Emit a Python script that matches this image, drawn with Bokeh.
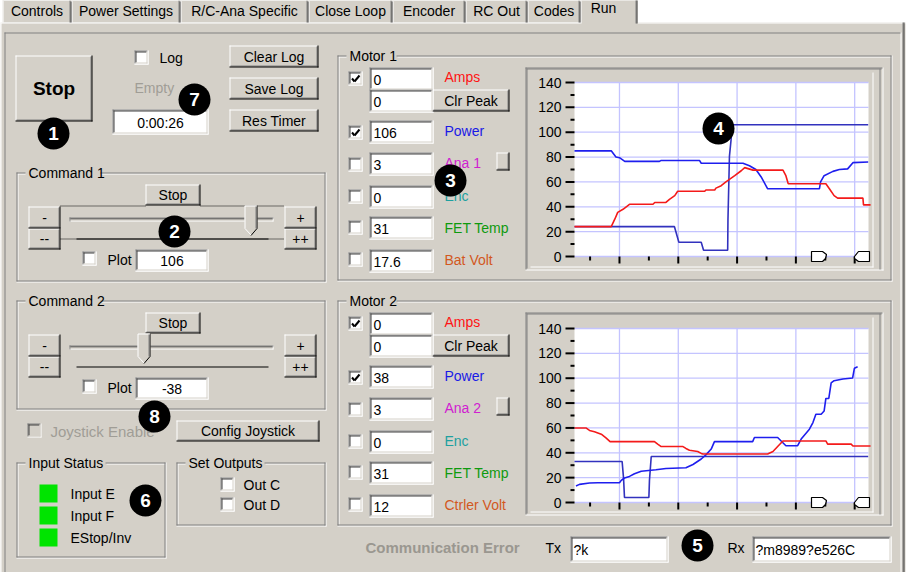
import numpy as np
from bokeh.plotting import figure
from bokeh.models import Range1d, ColumnDataSource
from bokeh.core.properties import value
from bokeh.embed import file_html
from bokeh.resources import INLINE

# ---------------- data ----------------
tabs = ["Controls", "Power Settings", "R/C-Ana Specific", "Close Loop",
        "Encoder", "RC Out", "Codes", "Run"]

y_ticks = [0, 20, 40, 60, 80, 100, 120, 140]
y_tick_labels = ["0", "20", "40", "60", "80", "100", "120", "140"]
y_minor = [10, 30, 50, 70, 90, 110, 130]
x_major = [10, 20, 30, 40, 50]
x_minor = [5, 15, 25, 35, 45]
t_start, t_end = 2.35, 52.35

m1_labels = ["Amps", "Power", "Ana 1", "Enc", "FET Temp", "Bat Volt"]
m1_values = ["0", "106", "3", "0", "31", "17.6"]
m1_peak = "0"
m1_checked = [True, True, False, False, False, False]
m2_labels = ["Amps", "Power", "Ana 2", "Enc", "FET Temp", "Ctrler Volt"]
m2_values = ["0", "38", "3", "0", "31", "12"]
m2_peak = "0"
m2_checked = [True, True, False, False, False, False]

cmd1_value = "106"
cmd2_value = "-38"
timer_text = "0:00:26"
tx_text = "?k"
rx_text = "?m8989?e526C"
inputs = ["Input E", "Input F", "EStop/Inv"]
outputs = ["Out C", "Out D"]

# Motor 1 chart series
m1_amps_t = [2.35, 8.6, 9.2, 9.7, 10.6, 11.7, 15.7, 16.0, 17.9, 18.5, 19.4, 19.9, 24.5, 24.7,
             26.2, 26.4, 27.3, 28.1, 29.6, 30.7, 31.3, 32.7, 37.8, 38.3, 38.7, 45.1, 45.7,
             46.5, 47.1, 51.4, 51.5, 52.7]
m1_amps = [24, 24, 30, 35.5, 38, 42, 42, 43.5, 43.5, 46, 49, 52.5, 52.5, 53.5,
           53.5, 55, 57, 60, 65, 69, 71.5, 69.5, 69.5, 65, 58.5, 58.5, 54.5,
           49, 47, 47, 41.5, 41.5]
m1_power_t = [2.35, 8.6, 9.4, 10.0, 10.9, 16.8, 17.1, 23.6, 23.9, 31.0, 32.1, 33.2, 34.1,
              35.2, 44.0, 44.2, 44.8, 46.3, 47.4, 48.8, 49.7, 52.3]
m1_power = [85, 85, 80, 79.5, 76.5, 76.5, 77.3, 77.3, 75, 75, 73, 70, 64,
            54.5, 54.5, 60, 65, 68.5, 70, 70.5, 75.5, 76]
m1_cmd_t = [2.35, 19.35, 20.1, 23.9, 24.3, 28.4, 28.45, 28.7, 29.0, 29.15, 52.3]
m1_cmd = [24, 24, 11.5, 11.5, 5, 5, 30, 80.5, 95, 106, 106]

# Motor 2 chart series
m2_amps_t = [2.35, 4.3, 4.9, 5.75, 6.9, 7.7, 8.4, 15.95, 16.5, 17.1, 20.8, 21.3, 21.9, 23.3,
             23.9, 24.2, 35.2, 36.1, 36.9, 37.8, 45.1, 45.4, 49.4, 49.7, 52.7]
m2_amps = [60, 60, 58, 57, 55, 52, 49, 49, 47, 45, 45, 43.5, 42, 41,
           39.5, 39, 39, 41, 45, 49.5, 49.5, 47, 47, 45.5, 45.5]
m2_power_t = [2.6, 3.2, 4.9, 6.3, 10.0, 10.3, 10.85, 11.7, 12.55, 13.7, 16.2, 17.9, 21.3,
              22.5, 23.9, 24.7, 25.6, 26.15, 32.65, 32.95, 36.9, 38.3, 40.3, 40.9, 42.3,
              42.9, 43.4, 44.3, 44.8, 45.1, 45.6, 46.0, 46.5, 48.0, 49.65, 49.95, 50.5]
m2_power = [13.3, 14.6, 15.7, 15.9, 15.9, 17.8, 19.7, 21, 23.1, 25.2, 26.3, 27.4, 27.9,
            30.6, 35, 38.3, 43, 49, 49, 52.3, 52.3, 45.7, 45.7, 51, 59,
            64.3, 71, 71, 73.6, 83.7, 83.7, 96.2, 98, 99.4, 100.2, 108, 109.2]
m2_cmd_t = [2.35, 10.45, 10.7, 10.85, 15.0, 15.1, 15.4, 52.3]
m2_cmd = [33, 33, 19, 4, 4, 18, 37, 37]

# ---------------- style ----------------
FONT = "Liberation Sans"
GREY = "#D4D0C8"
DARK = "#808080"
SHADOW = "#404040"
WHITE = "#FFFFFF"
BLACK = "#000000"
DIS = "#A09D96"
GRID = "#C4C4FF"
RED = "#F41A1A"
BLUE = "#1E1EEE"
NAVY = "#3232BE"
GREEN = "#00E400"
LABEL_COLORS = ["#FF1414", "#1A1AE6", "#D020D0", "#1EA0A0", "#0E9A0E", "#D2581E"]

p = figure(width=907, height=572, x_range=Range1d(8, 915), y_range=Range1d(580, 8),
           output_backend="svg", toolbar_location=None, min_border=0,
           x_axis_location=None, y_axis_location=None)
p.grid.visible = False
p.outline_line_color = None
p.background_fill_color = WHITE
p.border_fill_color = WHITE

QU = dict(l=[], r=[], t=[], b=[], c=[])
SEG = {}
TXT = {}
PATCH = dict(xs=[], ys=[], c=[])


def rect(x0, y0, x1, y1, c):
    QU["l"].append(x0); QU["r"].append(x1); QU["t"].append(y0); QU["b"].append(y1); QU["c"].append(c)


def seg(x0, y0, x1, y1, c, w=1, dash="solid", layer=0):
    d = SEG.setdefault((layer, c, w, dash), dict(x0=[], y0=[], x1=[], y1=[]))
    d["x0"].append(x0); d["y0"].append(y0); d["x1"].append(x1); d["y1"].append(y1)


def hl(x0, x1, y, c, **kw):
    seg(x0, y + 0.5, x1, y + 0.5, c, **kw)


def vl(x, y0, y1, c, **kw):
    seg(x + 0.5, y0, x + 0.5, y1, c, **kw)


def text(x, y, s, size=14, bold=False, color=BLACK, align="left"):
    d = TXT.setdefault((size, bold, align), dict(x=[], y=[], text=[], color=[]))
    d["x"].append(x); d["y"].append(y); d["text"].append(s); d["color"].append(color)


def raised(x0, y0, x1, y1, label=None, size=14, bold=False):
    rect(x0, y0, x1, y1, GREY)
    hl(x0, x1 - 1, y0, WHITE); vl(x0, y0, y1 - 1, WHITE)
    hl(x0, x1, y1 - 1, BLACK); vl(x1 - 1, y0, y1, BLACK)
    hl(x0 + 1, x1 - 1, y1 - 2, DARK); vl(x1 - 2, y0 + 1, y1 - 1, DARK)
    if label is not None:
        text((x0 + x1) / 2, (y0 + y1) / 2, label, size=size, bold=bold, align="center")


def sunken(x0, y0, x1, y1, fill=WHITE):
    rect(x0, y0, x1, y1, fill)
    hl(x0, x1 - 1, y0, DARK); vl(x0, y0, y1 - 1, DARK)
    hl(x0 + 1, x1 - 2, y0 + 1, SHADOW); vl(x0 + 1, y0 + 1, y1 - 2, SHADOW)
    hl(x0, x1, y1 - 1, WHITE); vl(x1 - 1, y0, y1, WHITE)
    hl(x0 + 1, x1 - 1, y1 - 2, GREY); vl(x1 - 2, y0 + 1, y1 - 1, GREY)


def checkbox(x, y, checked=False, disabled=False, s=14):
    sunken(x, y, x + s, y + s, GREY if disabled else WHITE)
    if checked:
        seg(x + 3.5, y + 7, x + 6, y + 10, BLACK, w=2, layer=1)
        seg(x + 6, y + 10, x + 11, y + 4, BLACK, w=2, layer=1)


def group(x0, y0, x1, y1, title, tw):
    g0, g1 = x0 + 9, x0 + 13 + tw
    for a, b in ((x0, g0), (g1, x1 - 1)):
        hl(a, b, y0, DARK); hl(a + 1, b, y0 + 1, WHITE)
    vl(x0, y0, y1 - 1, DARK); vl(x0 + 1, y0 + 1, y1 - 2, WHITE)
    hl(x0, x1 - 1, y1 - 2, DARK); hl(x0, x1, y1 - 1, WHITE)
    vl(x1 - 2, y0, y1 - 1, DARK); vl(x1 - 1, y0, y1, WHITE)
    text(x0 + 12, y0 + 0.5, title)


# ---------------- tabs and panel ----------------
tab_x = [10, 79, 188, 316, 400, 473, 535, 588, 645]
rect(8, 30, 913, 588, GREY)
for i, name in enumerate(tabs[:-1]):
    a, b = tab_x[i], tab_x[i + 1]
    rect(a, 7, b, 30, GREY)
    hl(a + 1, b - 2, 7, WHITE); vl(a, 8, 30, WHITE)
    vl(b - 2, 8, 30, DARK); vl(b - 1, 9, 30, SHADOW)
    text((a + b) / 2, 18.5, name, align="center")
hl(8, 588, 30, WHITE); hl(645, 913, 30, WHITE)
vl(8, 30, 588, WHITE)
a, b = tab_x[-2], tab_x[-1]
rect(a, 3, b, 31, GREY)
hl(a + 1, b - 2, 3, WHITE); vl(a, 4, 31, WHITE)
vl(b - 2, 4, 31, DARK); vl(b - 1, 5, 31, SHADOW)
text(611, 15.5, tabs[-1], align="center")
vl(910, 30, 588, DARK); vl(911, 30, 588, SHADOW)
# inner frame
hl(12, 908, 40, DARK); vl(12, 40, 583, DARK)
hl(12, 909, 582, WHITE); vl(908, 40, 583, WHITE)

# ---------------- top-left controls ----------------
raised(23, 63, 100, 129, "Stop", size=19, bold=True)
checkbox(142, 58)
text(167, 65, "Log")
text(142, 95, "Empty", color=DIS)
sunken(120, 117, 216, 142)
text(168, 130, timer_text, align="center")
raised(237, 53, 326, 75, "Clear Log")
raised(237, 85, 326, 107, "Save Log")
raised(237, 117, 326, 139, "Res Timer")


def command(dy, title, val, thumb_x, focus):
    group(24, 180 + dy, 334, 290 + dy, title, 71)
    raised(153, 192 + dy, 208, 213 + dy, "Stop")
    if focus:
        hl(68, 153, 213 + dy, BLACK, dash="1 1"); hl(208, 292, 213 + dy, BLACK, dash="1 1")
        hl(68, 292, 246 + dy, BLACK, dash="1 1")
    raised(36, 214 + dy, 68, 236 + dy, "-")
    raised(36, 236 + dy, 68, 257 + dy, "--")
    raised(292, 214 + dy, 324, 236 + dy, "+")
    raised(292, 236 + dy, 324, 257 + dy, "++")
    # channel
    hl(77, 281, 225 + dy, DARK); hl(78, 280, 226 + dy, SHADOW)
    hl(78, 280, 227 + dy, GREY); hl(77, 281, 228 + dy, WHITE)
    vl(77, 225 + dy, 229 + dy, DARK); vl(280, 225 + dy, 229 + dy, WHITE)
    hl(84, 276, 246 + dy, BLACK, layer=1) if focus else hl(84, 276, 246 + dy, BLACK)
    # thumb
    x0, x1 = thumb_x, thumb_x + 13
    xm = (x0 + x1) / 2
    PATCH["xs"].append([x0, x1, x1, xm, x0]); PATCH["ys"].append([213 + dy, 213 + dy, 236 + dy, 243 + dy, 236 + dy])
    PATCH["c"].append(GREY)
    seg(x0 + 0.5, 213.5 + dy, x1 - 0.5, 213.5 + dy, WHITE, layer=1)
    seg(x0 + 0.5, 213.5 + dy, x0 + 0.5, 236 + dy, WHITE, layer=1)
    seg(x0 + 0.5, 236 + dy, xm, 242.5 + dy, WHITE, layer=1)
    seg(x1 - 0.5, 213 + dy, x1 - 0.5, 236 + dy, BLACK, layer=1)
    seg(x1 - 0.5, 236 + dy, xm, 243 + dy, BLACK, layer=1)
    seg(x1 - 1.5, 214 + dy, x1 - 1.5, 236 + dy, DARK, layer=1)
    checkbox(90, 259 + dy)
    text(115, 267.5 + dy, "Plot")
    sunken(143, 257 + dy, 216, 279 + dy)
    text(179.5, 268.5 + dy, val, align="center")


command(0, "Command 1", cmd1_value, 252, True)
command(128, "Command 2", cmd2_value, 145, False)

checkbox(35, 431, disabled=True)
text(58, 438.5, "Joystick Enable", size=15, color=DIS)
raised(184, 428, 327, 449, "Config Joystick")

group(24, 470, 174, 566, "Input Status", 76)
for i, s in enumerate(inputs):
    rect(47, 492 + 22 * i, 65, 510 + 22 * i, GREEN)
    text(78, 501 + 22 * i, s)
group(184, 470, 334, 534, "Set Outputs", 75)
for i, s in enumerate(outputs):
    checkbox(228, 485 + 20 * i)
    text(251, 492.5 + 20 * i, s)

# ---------------- motor groups ----------------
row_tb = [75, 128, 160, 193, 224, 257]
row_cb = [79, 133, 165, 197, 228, 260]
row_lb = [84, 138, 170, 203, 235, 267]


def motor(dy, title, labels, values, peak, checked):
    group(345, 63 + dy, 900, 289 + dy, title, 46)
    for i in range(6):
        checkbox(356, row_cb[i] + dy, checked=checked[i])
        sunken(377, row_tb[i] + dy, 441, row_tb[i] + 23 + dy)
        text(381, row_tb[i] + 12 + dy, values[i])
        text(452, row_lb[i] + dy, labels[i], color=LABEL_COLORS[i])
    sunken(377, 97 + dy, 441, 120 + dy)
    text(381, 109 + dy, peak)
    raised(440, 97 + dy, 517, 119 + dy, "Clr Peak")
    raised(504, 160 + dy, 517, 178 + dy)
    # chart frame
    rect(533, 75 + dy, 891, 278 + dy, GREY)
    hl(533, 890, 75 + dy, DARK); vl(533, 75 + dy, 277 + dy, DARK)
    hl(534, 889, 76 + dy, DARK); vl(534, 76 + dy, 276 + dy, DARK)
    hl(533, 891, 277 + dy, WHITE); vl(890, 75 + dy, 278 + dy, WHITE)
    vl(887, 76 + dy, 277 + dy, DARK)
    vl(880, 80 + dy, 275 + dy, WHITE); hl(538, 881, 274 + dy, WHITE)


motor(0, "Motor 1", m1_labels, m1_values, m1_peak, m1_checked)
motor(245, "Motor 2", m2_labels, m2_values, m2_peak, m2_checked)

# ---------------- bottom line ----------------
text(373, 555, "Communication Error", size=15, bold=True, color="#9A9790")
text(553, 555, "Tx")
sunken(578, 544, 676, 570)
text(581, 557.5, tx_text)
text(735, 555, "Rx")
sunken(760, 544, 899, 570)
text(763, 557.5, rx_text)

# ---------------- render GUI ----------------
p.quad(left="l", right="r", top="t", bottom="b", fill_color="c", line_color=None,
       source=ColumnDataSource(QU))


def draw_segs(layer):
    for (ly, c, w, dash), d in SEG.items():
        if ly == layer:
            p.segment(x0="x0", y0="y0", x1="x1", y1="y1", line_color=c, line_width=w,
                      line_dash=dash, source=ColumnDataSource(d))


draw_segs(0)
p.patches(xs="xs", ys="ys", fill_color="c", line_color=None, source=ColumnDataSource(PATCH))
draw_segs(1)
for (size, bold, align), d in TXT.items():
    p.text(x="x", y="y", text="text", text_color="color", source=ColumnDataSource(d),
           text_font=value(FONT), text_font_size=f"{size}px",
           text_font_style="bold" if bold else "normal",
           text_align=align, text_baseline="middle")


# ---------------- charts ----------------
def chart(dy, series):
    sub = p.subplot(x_source=Range1d(t_start, t_end), y_source=Range1d(0, 140),
                    x_target=Range1d(582, 876), y_target=Range1d(264 + dy, 90 + dy))
    sub.quad(left=[t_start], right=[t_end], bottom=[0], top=[140], fill_color=WHITE, line_color=None)
    sub.segment(x0=x_major, y0=[0] * len(x_major), x1=x_major, y1=[140] * len(x_major),
                line_color=GRID, line_width=1.3)
    sub.segment(x0=[t_start] * len(y_ticks), y0=y_ticks, x1=[t_end] * len(y_ticks), y1=y_ticks,
                line_color=GRID, line_width=1.3)
    for t, v, c in series:
        sub.line(t, v, line_color=c, line_width=1.6)
    sub.ray(x=[t_start] * len(y_ticks), y=y_ticks, length=9, angle=np.pi, length_units="screen",
            line_color=BLACK, line_width=2)
    sub.ray(x=[t_start] * len(y_minor), y=y_minor, length=4, angle=np.pi, length_units="screen",
            line_color=BLACK, line_width=2)
    k = 140 / 174
    sub.segment(x0=x_major, y0=[0] * len(x_major), x1=x_major, y1=[-7 * k] * len(x_major),
                line_color=BLACK, line_width=2)
    sub.segment(x0=x_minor, y0=[0] * len(x_minor), x1=x_minor, y1=[-4 * k] * len(x_minor),
                line_color=BLACK, line_width=2)
    sub.text(x=[t_start] * len(y_ticks), y=y_ticks, text=y_tick_labels, x_offset=-13,
             text_font=value(FONT), text_font_size="14px", text_align="right",
             text_baseline="middle", text_color=BLACK)
    # scroll markers
    p.patch([819, 830, 834, 833, 830, 819], [259 + dy, 259 + dy, 262 + dy, 266 + dy, 269 + dy, 269 + dy],
            fill_color=WHITE, line_color=BLACK, line_width=1.2)
    p.patch([862, 866, 877, 877, 866, 862], [264 + dy, 259 + dy, 259 + dy, 269 + dy, 269 + dy, 266 + dy],
            fill_color=WHITE, line_color=BLACK, line_width=1.2)


chart(0, [(m1_cmd_t, m1_cmd, NAVY), (m1_power_t, m1_power, BLUE), (m1_amps_t, m1_amps, RED)])
chart(246, [(m2_cmd_t, m2_cmd, NAVY), (m2_power_t, m2_power, BLUE), (m2_amps_t, m2_amps, RED)])

# ---------------- numbered badges ----------------
badges = ["1", "7", "2", "3", "4", "8", "6", "5"]
bx = [61, 202, 182, 458, 726, 162, 153, 705]
by = [141, 107, 239, 188, 136, 424, 508, 553]
p.circle(x=bx, y=by, radius=16, fill_color=BLACK, line_color=None)
p.text(x=bx, y=by, text=badges, text_color=WHITE, text_font=value(FONT), text_font_size="19px",
       text_font_style="bold", text_align="center", text_baseline="middle")

open("out.html", "w").write(file_html(p, INLINE))
